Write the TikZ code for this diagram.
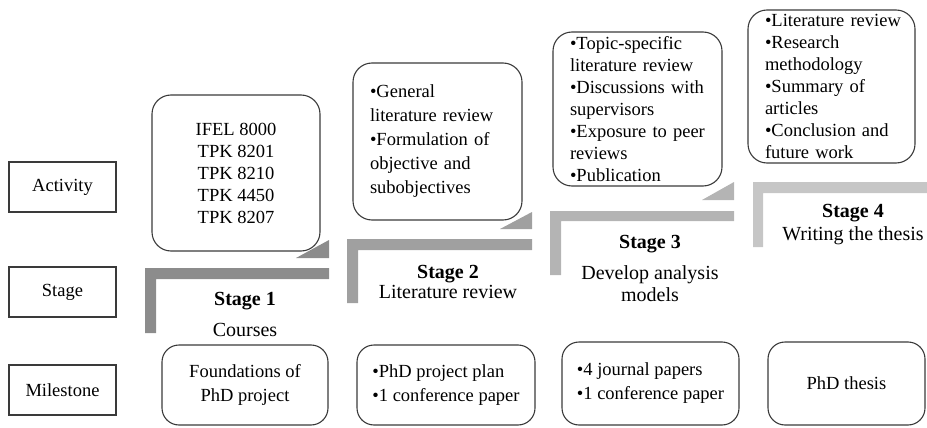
\documentclass[tikz,border=0pt]{standalone}
\usepackage{fontspec}
\setmainfont{Liberation Serif}
\definecolor{edge}{HTML}{3A3A3A}
\definecolor{stone}{HTML}{8C8C8C}
\definecolor{sttwo}{HTML}{A0A0A0}
\definecolor{stthree}{HTML}{B4B4B4}
\definecolor{stfour}{HTML}{C6C6C6}
\hyphenpenalty=10000
\exhyphenpenalty=10000
\begin{document}
\begin{tikzpicture}[x=1pt,y=-1pt,
  rowlabel/.style={draw=edge, line width=1.1pt, inner sep=0pt,
    minimum width=107pt, minimum height=50pt,
    font=\fontsize{18.5}{22}\selectfont},
  card/.style={draw=edge, line width=1.1pt, rounded corners=19pt, inner sep=0pt,
    font=\fontsize{18.5}{22}\selectfont},
  leftcard/.style={card, align=left},
  goal/.style={draw=edge, line width=1.1pt, rounded corners=17pt, inner sep=0pt,
    font=\fontsize{18.5}{24}\selectfont},
  stagetext/.style={align=center, inner sep=0pt,
    font=\fontsize{20}{22}\selectfont}
]
\useasboundingbox (0,0) rectangle (927,428);

% row headings
\node[rowlabel] (act) at (62.5,187) {Activity};
\node[rowlabel] (stg) at (62.5,292) {Stage};
\node[rowlabel] (mil) at (62.5,390) {Milestone};

% stage steps: L-shaped bars with a pointer towards the activity card
\fill[stone] (145,268) -- (329,268) -- (329,279) -- (156,279) -- (156,333) -- (145,333) -- cycle;
\fill[stone] (296,258) -- (329,258) -- (329,240) -- cycle;
\fill[sttwo] (347,239) -- (532,239) -- (532,250) -- (358,250) -- (358,303) -- (347,303) -- cycle;
\fill[sttwo] (500,229) -- (532,229) -- (532,212) -- cycle;
\fill[stthree] (550,211) -- (734,211) -- (734,221) -- (561,221) -- (561,275) -- (550,275) -- cycle;
\fill[stthree] (702,200) -- (734,200) -- (734,182) -- cycle;
\fill[stfour] (753,182) -- (927,182) -- (927,193) -- (763,193) -- (763,247) -- (753,247) -- cycle;

% activity cards
\node[card, align=center, minimum width=168pt, minimum height=156pt] (a1) at (236,173)
  {IFEL 8000\\TPK 8201\\TPK 8210\\TPK 4450\\TPK 8207};
\node[leftcard, text width=135pt, minimum width=169pt, minimum height=157pt,
  font=\fontsize{18.5}{24}\selectfont] (a2) at (437.5,141.5)
  {•General\\literature review\\•Formulation of\\objective and\\subobjectives};
\node[leftcard, text width=135pt, minimum width=169pt, minimum height=154pt] (a3) at (637.5,109)
  {•Topic-specific\\literature review\\•Discussions with\\supervisors\\•Exposure to peer\\reviews\\•Publication};
\node[leftcard, text width=133pt, minimum width=167pt, minimum height=153pt] (a4) at (831.5,86.5)
  {\mbox{•Literature review}\\•Research\\methodology\\•Summary of\\articles\\•Conclusion and\\future work};

% stage titles
\node[stagetext] (s1) at (245,314.5) {\textbf{Stage 1}\\[9pt]Courses};
\node[stagetext] (s2) at (448,282) {\textbf{Stage 2}\\[-2pt]Literature review};
\node[stagetext] (s3) at (650,268.5) {\textbf{Stage 3}\\[9pt]Develop analysis\\models};
\node[stagetext] (s4) at (853,224.5) {\textbf{Stage 4}\\[1pt]Writing the thesis};

% milestones
\node[goal, align=center, minimum width=166pt, minimum height=80pt] (m1) at (245,385)
  {Foundations of\\PhD project};
\node[goal, align=left, minimum width=178pt, minimum height=80pt] (m2) at (446,385)
  {•PhD project plan\\•1 conference paper};
\node[goal, align=left, minimum width=177pt, minimum height=83pt] (m3) at (650.5,383.5)
  {•4 journal papers\\•1 conference paper};
\node[goal, minimum width=157pt, minimum height=83pt] (m4) at (846.5,383.5)
  {PhD thesis};
\end{tikzpicture}
\end{document}
